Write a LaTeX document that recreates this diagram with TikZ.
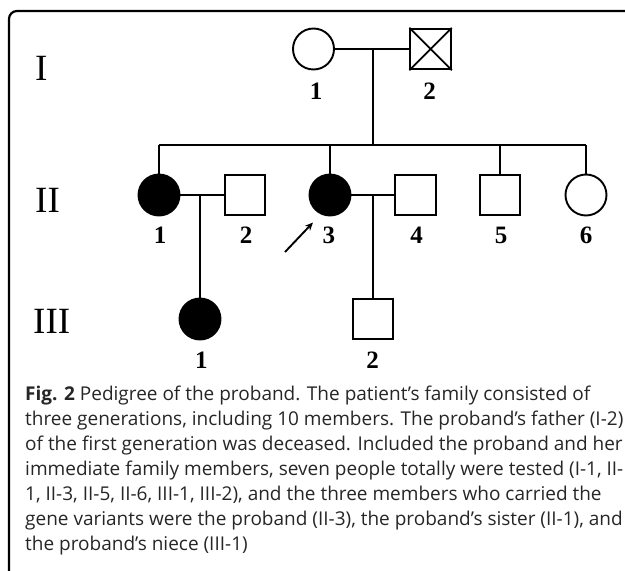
\documentclass[tikz,border=0pt]{standalone}
\usepackage{fontspec}
\setmainfont{Liberation Serif}
\newfontfamily\capfont{Open Sans}
\usetikzlibrary{arrows.meta}
\begin{document}
\begin{tikzpicture}[x=1pt,y=-1pt,
  female/.style={circle,draw,line width=1.9pt,minimum size=41pt,inner sep=0pt},
  male/.style={rectangle,draw,line width=1.9pt,minimum size=40.5pt,inner sep=0pt},
  aff/.style={fill=black},
  rel/.style={line width=1.8pt},
  lbl/.style={font=\fontsize{25}{25}\selectfont\bfseries,inner sep=0pt},
  gen/.style={font=\fontsize{37}{37}\selectfont,inner sep=0pt,anchor=base west},
  capline/.style={font=\capfont\fontsize{19}{19}\selectfont,inner sep=0pt,anchor=base west,text=black!85}]
\useasboundingbox (0,0) rectangle (625,571);
% frame
\draw[line width=2.2pt,rounded corners=8pt] (9,571) -- (9,11) -- (625,11);
% generation numerals
\node[gen] (gI) at (35,80) {I};
\node[gen] (gII) at (35,212) {II};
\node[gen] (gIII) at (33,333) {III};
% generation I
\node[female] (i1) at (313.5,49) {};
\node[male] (i2) at (430.6,49) {};
\draw[rel] (i2.north west) -- (i2.south east) (i2.north east) -- (i2.south west);
\node[lbl] (l-i1) at (316,91.5) {1};
\node[lbl] (l-i2) at (429.6,91.5) {2};
% generation II
\node[female,aff] (ii1) at (159,195) {};
\node[male] (ii2) at (245,195) {};
\node[female,aff] (ii3) at (330,195) {};
\node[male] (ii4) at (415.5,195) {};
\node[male] (ii5) at (500,195) {};
\node[female] (ii6) at (586,195) {};
\node[lbl] (l-ii1) at (160,235) {1};
\node[lbl] (l-ii2) at (246,235) {2};
\node[lbl] (l-ii3) at (328.8,235) {3};
\node[lbl] (l-ii4) at (416.5,235) {4};
\node[lbl] (l-ii5) at (501,235) {5};
\node[lbl] (l-ii6) at (586,235) {6};
% generation III
\node[female,aff] (iii1) at (200,319) {};
\node[male] (iii2) at (373,319) {};
\node[lbl] (l-iii1) at (201.3,360) {1};
\node[lbl] (l-iii2) at (372.7,360) {2};
% connectors
\coordinate (m1) at (373,49);
\coordinate (s1) at (373,145);
\coordinate (sl) at (159,145);
\coordinate (sr) at (586,145);
\draw[rel] (i1.east) -- (i2.west);
\draw[rel] (m1) -- (s1);
\draw[rel] (sl) -- (sr);
\draw[rel] (sl) -- (ii1.north);
\draw[rel] (ii3.north |- s1) -- (ii3.north);
\draw[rel] (ii5.north |- s1) -- (ii5.north);
\draw[rel] (sr) -- (ii6.north);
\coordinate (m2) at (200,195);
\coordinate (m3) at (373,195);
\draw[rel] (ii1.east) -- (ii2.west);
\draw[rel] (m2) -- (iii1.north);
\draw[rel] (ii3.east) -- (ii4.west);
\draw[rel] (m3) -- (iii2.north);
% proband arrow
\coordinate (arrS) at (285,252);
\coordinate (arrE) at (313,222.5);
\draw[line width=1.9pt,-{Stealth[length=8pt,width=7pt]}] (arrS) -- (arrE);
% caption
\node[capline] (c1) at (25,400.3) {\textbf{Fig. 2} Pedigree of the proband. The patient’s family consisted of};
\node[capline] (c2) at (25,425.4) {three generations, including 10 members. The proband’s father (I-2)};
\node[capline] (c3) at (25,450.5) {of the first generation was deceased. Included the proband and her};
\node[capline] (c4) at (25,475.6) {immediate family members, seven people totally were tested (I-1, II-};
\node[capline] (c5) at (25,500.7) {1, II-3, II-5, II-6, III-1, III-2), and the three members who carried the};
\node[capline] (c6) at (25,525.8) {gene variants were the proband (II-3), the proband’s sister (II-1), and};
\node[capline] (c7) at (25,550.9) {the proband’s niece (III-1)};
\end{tikzpicture}
\end{document}
